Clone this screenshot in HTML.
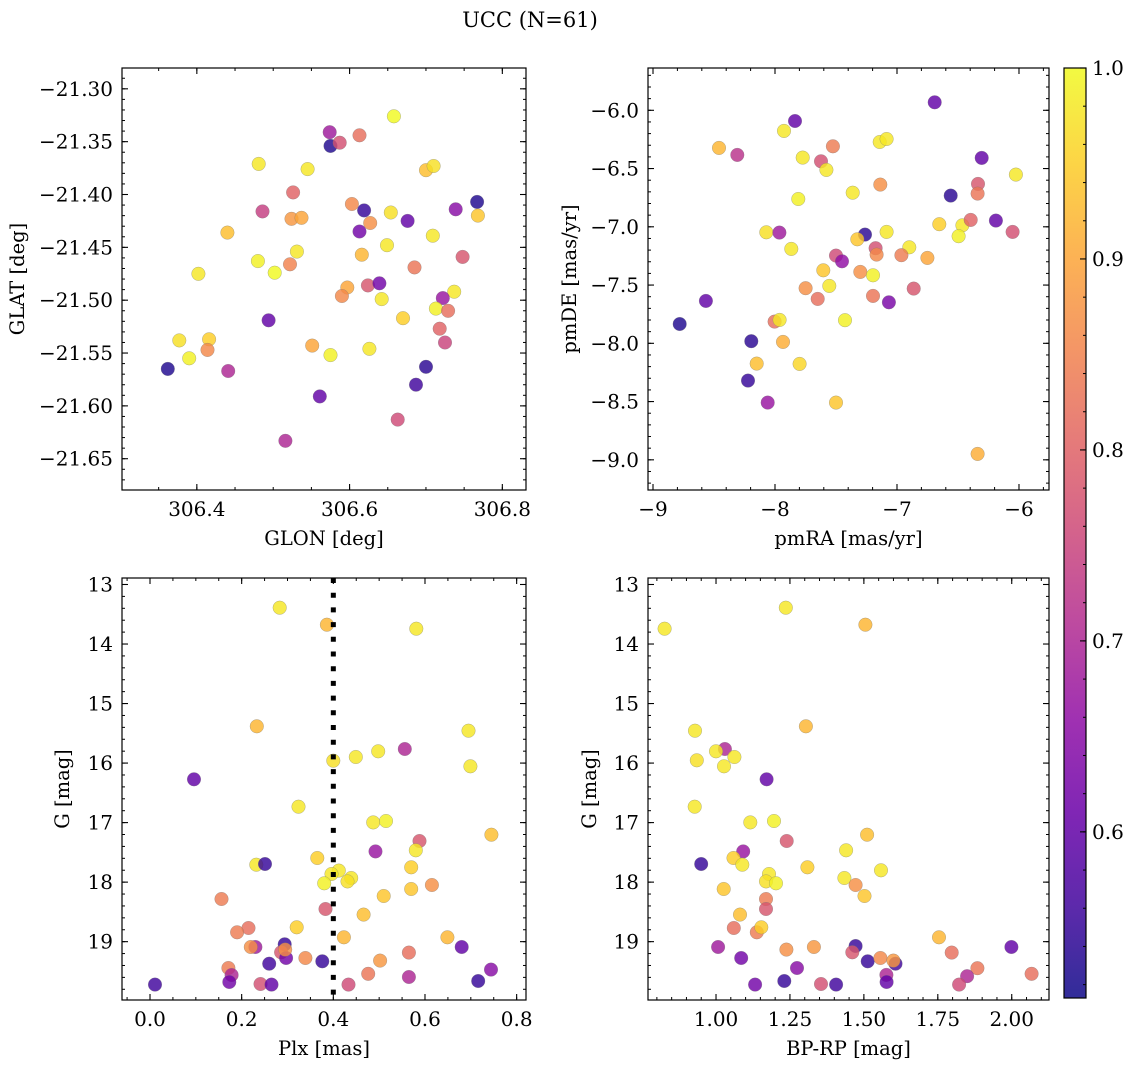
<!DOCTYPE html>
<html><head><meta charset="utf-8"><title>UCC (N=61)</title>
<style>
html,body{margin:0;padding:0;background:#fff;}
svg{display:block;font-family:"DejaVu Serif","Liberation Serif",serif;}
</style></head>
<body>
<svg id="fig" width="1136" height="1067" viewBox="0 0 1136 1067" xmlns="http://www.w3.org/2000/svg">
<defs>
<linearGradient id="plasma" x1="0" y1="1" x2="0" y2="0">
<stop offset="0" stop-color="#0d0887"/><stop offset="0.1" stop-color="#41049d"/><stop offset="0.2" stop-color="#6a00a8"/><stop offset="0.3" stop-color="#8f0da4"/><stop offset="0.4" stop-color="#b12a90"/><stop offset="0.5" stop-color="#cc4778"/><stop offset="0.6" stop-color="#e16462"/><stop offset="0.7" stop-color="#f2844b"/><stop offset="0.8" stop-color="#fca636"/><stop offset="0.9" stop-color="#fcce25"/><stop offset="1" stop-color="#f0f921"/>
</linearGradient>
</defs>
<text x="530" y="27" font-size="21" text-anchor="middle">UCC (N=61)</text>
</svg>
<script>
const tlGlon = [306.658,306.574,306.575,306.587,306.613,306.481,306.545,306.700,306.710,306.526,306.486,306.524,306.537,306.603,306.619,306.654,306.676,306.739,306.767,306.768,306.627,306.613,306.440,306.709,306.649,306.616,306.531,306.480,306.522,306.502,306.402,306.748,306.685,306.597,306.590,306.624,306.639,306.642,306.737,306.722,306.713,306.729,306.670,306.494,306.718,306.725,306.377,306.416,306.414,306.390,306.362,306.441,306.551,306.575,306.626,306.700,306.687,306.561,306.663,306.516];
const tlGlat = [-21.326,-21.341,-21.354,-21.351,-21.344,-21.371,-21.376,-21.377,-21.373,-21.398,-21.416,-21.423,-21.422,-21.409,-21.415,-21.417,-21.425,-21.414,-21.407,-21.420,-21.427,-21.435,-21.436,-21.439,-21.448,-21.457,-21.454,-21.463,-21.466,-21.474,-21.475,-21.459,-21.469,-21.488,-21.496,-21.486,-21.484,-21.499,-21.492,-21.498,-21.508,-21.510,-21.517,-21.519,-21.527,-21.540,-21.538,-21.537,-21.547,-21.555,-21.565,-21.567,-21.543,-21.552,-21.546,-21.563,-21.580,-21.591,-21.613,-21.633];
const tlProb = [1.0,0.68,0.53,0.77,0.82,0.98,0.98,0.93,0.97,0.80,0.74,0.88,0.90,0.86,0.55,0.97,0.60,0.65,0.53,0.94,0.87,0.62,0.93,0.98,0.98,0.92,0.98,0.99,0.85,1.0,0.98,0.78,0.83,0.90,0.86,0.78,0.62,0.98,0.98,0.67,0.99,0.82,0.95,0.60,0.80,0.75,0.97,0.95,0.86,0.99,0.53,0.70,0.90,0.99,0.98,0.54,0.56,0.60,0.76,0.70];

const trPmra = [-6.691,-7.836,-7.926,-8.459,-8.309,-7.525,-7.142,-7.085,-7.773,-7.623,-7.579,-6.306,-6.025,-7.137,-7.363,-7.809,-6.560,-6.336,-6.339,-6.653,-6.464,-6.396,-6.495,-6.189,-6.052,-8.071,-7.964,-7.866,-7.262,-7.325,-7.085,-7.175,-7.167,-6.899,-6.964,-6.751,-7.500,-7.451,-7.604,-7.301,-7.197,-7.555,-7.749,-7.650,-7.197,-7.066,-6.863,-8.566,-8.781,-8.003,-7.962,-7.426,-8.194,-7.934,-8.150,-7.798,-8.221,-8.060,-7.500,-6.339];
const trPmde = [-5.931,-6.092,-6.177,-6.323,-6.383,-6.309,-6.272,-6.246,-6.406,-6.438,-6.512,-6.409,-6.552,-6.638,-6.707,-6.761,-6.732,-6.632,-6.715,-6.978,-6.987,-6.941,-7.081,-6.947,-7.044,-7.047,-7.050,-7.190,-7.067,-7.107,-7.044,-7.184,-7.239,-7.176,-7.244,-7.267,-7.247,-7.296,-7.373,-7.387,-7.416,-7.507,-7.527,-7.619,-7.593,-7.648,-7.530,-7.636,-7.834,-7.814,-7.799,-7.802,-7.982,-7.988,-8.174,-8.177,-8.320,-8.509,-8.509,-8.949];
const trProb = [0.60,0.60,0.98,0.92,0.72,0.84,0.98,0.98,0.98,0.77,0.98,0.60,0.98,0.87,0.98,0.99,0.54,0.78,0.83,0.95,0.98,0.80,0.99,0.60,0.77,0.97,0.68,0.98,0.54,0.94,0.98,0.77,0.86,0.98,0.84,0.90,0.76,0.66,0.94,0.87,0.99,0.98,0.87,0.82,0.83,0.63,0.78,0.60,0.53,0.82,0.98,0.99,0.54,0.91,0.93,0.96,0.55,0.67,0.94,0.91];

const blPlx = [0.283,0.386,0.581,0.233,0.695,0.400,0.449,0.498,0.556,0.699,0.096,0.324,0.487,0.515,0.745,0.588,0.492,0.580,0.365,0.232,0.251,0.412,0.396,0.439,0.431,0.380,0.570,0.570,0.615,0.510,0.156,0.383,0.466,0.215,0.190,0.320,0.423,0.649,0.230,0.220,0.294,0.286,0.297,0.295,0.339,0.376,0.260,0.171,0.178,0.173,0.241,0.265,0.011,0.433,0.476,0.502,0.565,0.565,0.680,0.716,0.744];
const blG = [13.390,13.675,13.742,15.383,15.456,15.960,15.898,15.803,15.764,16.055,16.273,16.732,16.996,16.973,17.203,17.309,17.483,17.466,17.595,17.707,17.695,17.807,17.863,17.931,17.987,18.020,17.751,18.115,18.048,18.233,18.283,18.451,18.546,18.770,18.843,18.759,18.927,18.927,19.090,19.090,19.045,19.179,19.274,19.134,19.274,19.330,19.370,19.442,19.560,19.677,19.711,19.722,19.722,19.722,19.540,19.318,19.184,19.593,19.090,19.661,19.470];
const blProb = [0.98,0.92,0.98,0.92,0.98,0.97,0.98,0.98,0.70,0.98,0.60,0.98,0.98,0.99,0.93,0.78,0.67,0.98,0.95,0.98,0.55,0.98,0.98,0.98,0.97,0.99,0.95,0.94,0.87,0.94,0.84,0.78,0.93,0.82,0.84,0.95,0.92,0.92,0.68,0.87,0.55,0.78,0.62,0.87,0.86,0.55,0.56,0.84,0.70,0.62,0.77,0.60,0.56,0.76,0.83,0.88,0.82,0.70,0.60,0.55,0.65];
const plxCut = [0.4];

const brBprp = [0.826,1.236,1.505,1.304,0.929,1.030,1.000,1.062,0.935,1.027,1.171,0.928,1.116,1.196,1.511,1.239,1.092,1.440,1.059,1.089,0.950,1.179,1.169,1.203,1.309,1.558,1.434,1.472,1.502,1.026,1.169,1.169,1.081,1.060,1.138,1.153,1.754,1.007,1.085,1.238,1.331,1.472,1.461,1.513,1.556,1.607,1.600,1.274,1.132,1.231,1.355,1.406,1.576,1.577,1.797,1.884,1.849,1.822,1.999,2.067];
const brG = [13.742,13.390,13.675,15.383,15.456,15.764,15.803,15.898,15.954,16.055,16.273,16.732,16.996,16.973,17.203,17.309,17.483,17.466,17.595,17.707,17.695,17.863,17.987,18.020,17.751,17.802,17.931,18.048,18.233,18.115,18.283,18.451,18.546,18.770,18.843,18.759,18.927,19.090,19.274,19.134,19.090,19.073,19.179,19.330,19.274,19.370,19.318,19.442,19.722,19.661,19.711,19.722,19.559,19.677,19.184,19.445,19.581,19.722,19.090,19.540];
const brProb = [0.98,0.98,0.92,0.92,0.98,0.70,0.98,0.98,0.97,0.98,0.60,0.98,0.98,0.99,0.93,0.78,0.67,0.98,0.95,0.98,0.55,0.98,0.97,0.99,0.95,0.98,0.98,0.87,0.94,0.94,0.84,0.78,0.93,0.82,0.84,0.95,0.92,0.68,0.62,0.87,0.88,0.55,0.78,0.55,0.86,0.56,0.88,0.65,0.62,0.55,0.77,0.56,0.70,0.60,0.82,0.83,0.70,0.76,0.60,0.82];

const tlXTicks = [306.4,306.6,306.8];
const tlYTicks = [-21.30,-21.35,-21.40,-21.45,-21.50,-21.55,-21.60,-21.65];
const trXTicks = [-9,-8,-7,-6];
const trYTicks = [-6.0,-6.5,-7.0,-7.5,-8.0,-8.5,-9.0];
const blXTicks = [0.0,0.2,0.4,0.6,0.8];
const gYTicks = [13,14,15,16,17,18,19];
const brXTicks = [1.00,1.25,1.50,1.75,2.00];
const cbTicks = [0.6,0.7,0.8,0.9,1.0];

const NS = 'http://www.w3.org/2000/svg';
const svg = document.getElementById('fig');
const TICKFS = 20, LABFS = 19.5;
function mk(tag, attrs, parent){
  const e = document.createElementNS(NS, tag);
  for (const k in attrs) e.setAttribute(k, attrs[k]);
  (parent||svg).appendChild(e);
  return e;
}
const stops = ['#0d0887','#41049d','#6a00a8','#8f0da4','#b12a90','#cc4778','#e16462','#f2844b','#fca636','#fcce25','#f0f921'];
const VMIN = 0.513, VMAX = 1.0;
function hex(h){return [parseInt(h.substr(1,2),16),parseInt(h.substr(3,2),16),parseInt(h.substr(5,2),16)];}
function plasma(v){
  let t = (v-VMIN)/(VMAX-VMIN); t = Math.max(0,Math.min(1,t));
  const s = t*10, i = Math.min(9,Math.floor(s)), f = s-i;
  const a = hex(stops[i]), b = hex(stops[i+1]);
  return 'rgb('+a.map((c,j)=>Math.round(c+(b[j]-c)*f)).join(',')+')';
}
function fmt(v, d){ return (v<0?'\u2212':'') + Math.abs(v).toFixed(d); }

function panel(cfg){
  const g = mk('g', {});
  
  
  const L=cfg.l, R=cfg.r, T=cfg.t, B=cfg.b;
  const sx = v => L + (v-cfg.x0)/(cfg.x1-cfg.x0)*(R-L);
  const sy = v => B - (v-cfg.y0)/(cfg.y1-cfg.y0)*(B-T);
  const pg = mk('g', {}, g);
  
  
  for (let i=0;i<cfg.xs.length;i++){
    const c = mk('circle', {cx:sx(cfg.xs[i]).toFixed(1), cy:sy(cfg.ys[i]).toFixed(1), r:6.8, fill:plasma(cfg.ps[i]), 'fill-opacity':0.82, stroke:'#777', 'stroke-width':0.4, 'stroke-opacity':0.7}, pg);
    
    
  }
  if (cfg.vline){
    const ln = mk('line', {x1:sx(cfg.vline[0]), x2:sx(cfg.vline[0]), y1:T, y2:B, stroke:'#000', 'stroke-width':5, 'stroke-dasharray':'5 9.7'}, g);
    
    
  }
  const fr = mk('rect', {x:L, y:T, width:R-L, height:B-T, fill:'none', stroke:'#000', 'stroke-width':1.2}, g);
  
  
  const xa = mk('g', {}, g);
  
  
  const xlo = Math.min(cfg.x0,cfg.x1), xhi = Math.max(cfg.x0,cfg.x1);
  for (let v=Math.ceil(xlo/cfg.xminor)*cfg.xminor; v<=xhi+1e-9; v+=cfg.xminor){
    const x = sx(v);
    mk('line',{x1:x,x2:x,y1:B,y2:B-3,stroke:'#000','stroke-width':1},xa);
    mk('line',{x1:x,x2:x,y1:T,y2:T+3,stroke:'#000','stroke-width':1},xa);
  }
  cfg.xticks.forEach(v=>{
    const x = sx(v);
    mk('line',{x1:x,x2:x,y1:B,y2:B-6,stroke:'#000','stroke-width':1.1},xa);
    mk('line',{x1:x,x2:x,y1:T,y2:T+6,stroke:'#000','stroke-width':1.1},xa);
    const t = mk('text',{x:x,y:B+26,'font-size':TICKFS,'text-anchor':'middle'},xa);
    t.textContent = fmt(v,cfg.xdec);
    
    
  });
  const ylo = Math.min(cfg.y0,cfg.y1), yhi = Math.max(cfg.y0,cfg.y1);
  const ya = mk('g', {}, g);
  
  
  for (let v=Math.ceil(ylo/cfg.yminor)*cfg.yminor; v<=yhi+1e-9; v+=cfg.yminor){
    const y = sy(v);
    mk('line',{x1:L,x2:L+3,y1:y,y2:y,stroke:'#000','stroke-width':1},ya);
    mk('line',{x1:R,x2:R-3,y1:y,y2:y,stroke:'#000','stroke-width':1},ya);
  }
  cfg.yticks.forEach(v=>{
    const y = sy(v);
    mk('line',{x1:L,x2:L+6,y1:y,y2:y,stroke:'#000','stroke-width':1.1},ya);
    mk('line',{x1:R,x2:R-6,y1:y,y2:y,stroke:'#000','stroke-width':1.1},ya);
    const t = mk('text',{x:L-9,y:y+7,'font-size':TICKFS,'text-anchor':'end'},ya);
    t.textContent = fmt(v,cfg.ydec);
    
    
  });
  const xl = mk('text',{x:(L+R)/2,y:B+55,'font-size':LABFS,'text-anchor':'middle'},g);
  xl.textContent = cfg.xlabel;
  
  
  const yl = mk('text',{x:0,y:0,'font-size':LABFS,'text-anchor':'middle',transform:'translate('+cfg.ylx+','+((T+B)/2)+') rotate(-90)'},g);
  yl.textContent = cfg.ylabel;
  
  
}

panel({name:'glon-glat-panel', l:122,r:526,t:68,b:490, x0:306.302,x1:306.831, y0:-21.6796,y1:-21.2803,
  xs:tlGlon, ys:tlGlat, ps:tlProb, xticks:tlXTicks, yticks:tlYTicks, xminor:0.05, yminor:0.01, xdec:1, ydec:2,
  xlabel:'GLON [deg]', ylabel:'GLAT [deg]', ylx:24});
panel({name:'pm-panel', l:648,r:1049,t:68,b:490, x0:-9.041,x1:-5.754, y0:-9.259,y1:-5.637,
  xs:trPmra, ys:trPmde, ps:trProb, xticks:trXTicks, yticks:trYTicks, xminor:0.2, yminor:0.1, xdec:0, ydec:1,
  xlabel:'pmRA [mas/yr]', ylabel:'pmDE [mas/yr]', ylx:576});
panel({name:'plx-g-panel', l:122,r:526,t:578,b:1000, x0:-0.0611,x1:0.8204, y0:19.980,y1:12.891,
  xs:blPlx, ys:blG, ps:blProb, xticks:blXTicks, yticks:gYTicks, xminor:0.05, yminor:0.2, xdec:1, ydec:0,
  xlabel:'Plx [mas]', ylabel:'G [mag]', ylx:69, vline:plxCut});
panel({name:'cmd-panel', l:648,r:1049,t:578,b:1000, x0:0.770,x1:2.126, y0:19.980,y1:12.891,
  xs:brBprp, ys:brG, ps:brProb, xticks:brXTicks, yticks:gYTicks, xminor:0.05, yminor:0.2, xdec:2, ydec:0,
  xlabel:'BP-RP [mag]', ylabel:'G [mag]', ylx:596});

(function(){
  const g = mk('g', {});
  
  
  const L=1064,R=1086,T=68,B=998;
  mk('rect',{x:L,y:T,width:R-L,height:B-T,fill:'url(#plasma)','fill-opacity':0.85},g);
  mk('rect',{x:L,y:T,width:R-L,height:B-T,fill:'none',stroke:'#000','stroke-width':1.2},g);
  const sy = v => B - (v-VMIN)/(VMAX-VMIN)*(B-T);
  for (let v=0.52; v<=1.0001; v+=0.02){
    mk('line',{x1:R,x2:R-3,y1:sy(v),y2:sy(v),stroke:'#000','stroke-width':1},g);
  }
  cbTicks.forEach(v=>{
    const y = sy(v);
    mk('line',{x1:R,x2:R-6,y1:y,y2:y,stroke:'#000','stroke-width':1.1},g);
    const t = mk('text',{x:R+6,y:y+7,'font-size':TICKFS},g);
    t.textContent = v.toFixed(1);
    
    
  });
})();
</script>
</body></html>
